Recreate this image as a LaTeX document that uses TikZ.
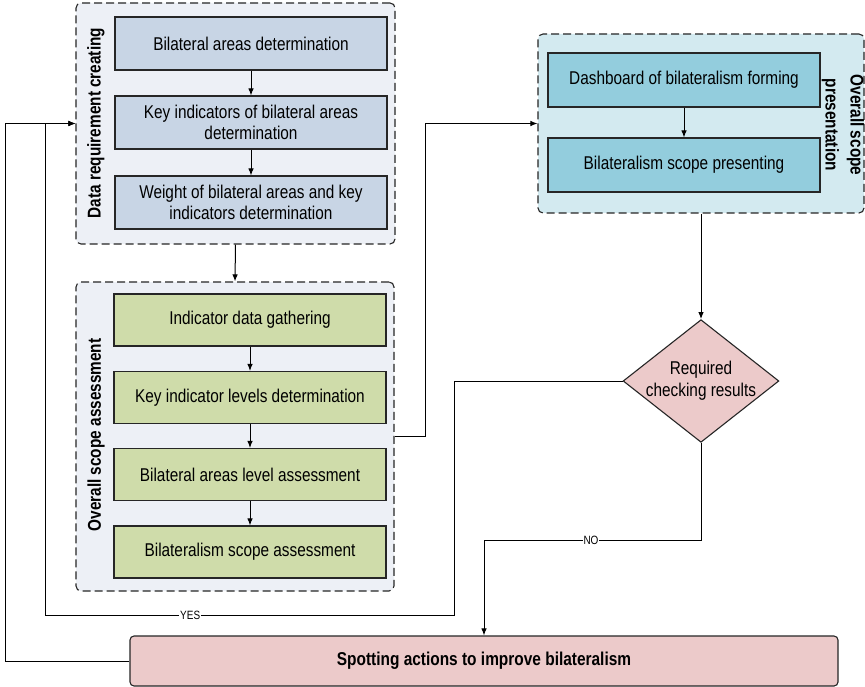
\documentclass[tikz,border=0pt]{standalone}
\usepackage{fontspec}
\setmainfont{Liberation Sans}[FakeStretch=0.83]
\usetikzlibrary{arrows.meta,shapes.geometric}
\definecolor{grpbg}{HTML}{EDF0F6}
\definecolor{bluegrey}{HTML}{C8D5E5}
\definecolor{greenbox}{HTML}{CFDCAA}
\definecolor{bluebox}{HTML}{93CDDD}
\definecolor{bluebg}{HTML}{D3EAF0}
\definecolor{pinkbox}{HTML}{ECCACA}
\tikzset{
  txt/.style={font=\fontsize{18.5}{21.6}\selectfont, align=center, text=black},
  box/.style={txt, draw=black!85, line width=1.1pt, minimum width=272pt, inner sep=2pt},
  grp/.style={draw=black!85, line width=1.1pt, dash pattern=on 8pt off 4pt, rounded corners=5pt},
  side/.style={font=\fontsize{18.5}{25}\selectfont\bfseries, align=center},
  arr/.style={draw=black, line width=1pt, -{Latex[length=7pt,width=5.5pt]}},
  lbl/.style={font=\fontsize{12}{12}\selectfont, fill=white, inner sep=1pt},
}
\begin{document}
\begin{tikzpicture}[x=1pt,y=-1pt]
\fill[white] (0,0) rectangle (865,687);
\useasboundingbox (0,0) rectangle (865,687);
% groups
\node[grp, fill=grpbg, minimum width=319pt, minimum height=241pt] (g1) at (235.5,123.5) {};
\node[grp, fill=grpbg, minimum width=318pt, minimum height=309pt] (g2) at (235,436.5) {};
\node[grp, fill=bluebg, minimum width=326pt, minimum height=179pt] (g3) at (701,123.5) {};
% top boxes
\node[box, fill=bluegrey, minimum height=53pt] (a1) at (251,43.5) {Bilateral areas determination};
\node[box, fill=bluegrey, minimum height=53pt] (a2) at (251,122.5) {Key indicators of bilateral areas\\determination};
\node[box, fill=bluegrey, minimum height=53pt] (a3) at (251,202.5) {Weight of bilateral areas and key\\indicators determination};
\node[side, rotate=90] (s1) at (96,123) {Data requirement creating};
% green boxes
\node[box, fill=greenbox, minimum height=52pt] (c1) at (250,320) {Indicator data gathering};
\node[box, fill=greenbox, minimum height=52pt] (c2) at (250,397.5) {Key indicator levels determination};
\node[box, fill=greenbox, minimum height=52pt] (c3) at (250,474.5) {Bilateral areas level assessment};
\node[box, fill=greenbox, minimum height=52pt] (c4) at (250,552) {Bilateralism scope assessment};
\node[side, rotate=90] (s2) at (96,435) {Overall scope assessment};
% blue boxes
\node[box, fill=bluebox, minimum height=54pt] (e1) at (684,80) {Dashboard of bilateralism forming};
\node[box, fill=bluebox, minimum height=54pt] (e2) at (684,165) {Bilateralism scope presenting};
\node[side, rotate=-90] (s3) at (843,125) {Overall scope\\presentation};
% diamond
\node[diamond, draw=black!85, line width=1.1pt, fill=pinkbox, txt, aspect=1.27, inner sep=-0.8pt] (d) at (701,381) {Required\\checking results};
% bottom
\node[box, fill=pinkbox, minimum width=708pt, minimum height=50pt, rounded corners=4pt, font=\fontsize{18.6}{21.6}\selectfont\bfseries] (bot) at (484,661) {Spotting actions to improve bilateralism};
% coordinates
\coordinate (y1) at (454,615);
\coordinate (y2) at (45,615);
\coordinate (n1) at (701,540);
\coordinate (l1) at (5,661);
% connectors
\draw[arr] (a1) -- (a2);
\draw[arr] (a2) -- (a3);
\draw[arr] (g1.south) -- (g2.north);
\draw[arr] (c1) -- (c2);
\draw[arr] (c2) -- (c3);
\draw[arr] (c3) -- (c4);
\draw[arr] (e1) -- (e2);
\draw[arr] (g2.east) -- ++(31,0) |- (g3.west);
\draw[arr] (g3.south) -- (d.north);
\draw[arr] (d.west) -| (y1) -- node[lbl, pos=0.645] {YES} (y2) |- (g1.west);
\draw[arr] (d.south) -- (n1) -- node[lbl, pos=0.507] {NO} (n1 -| bot.north) -- (bot.north);
\draw[arr] (bot.west) -- (l1) |- (g1.west);
\end{tikzpicture}
\end{document}
